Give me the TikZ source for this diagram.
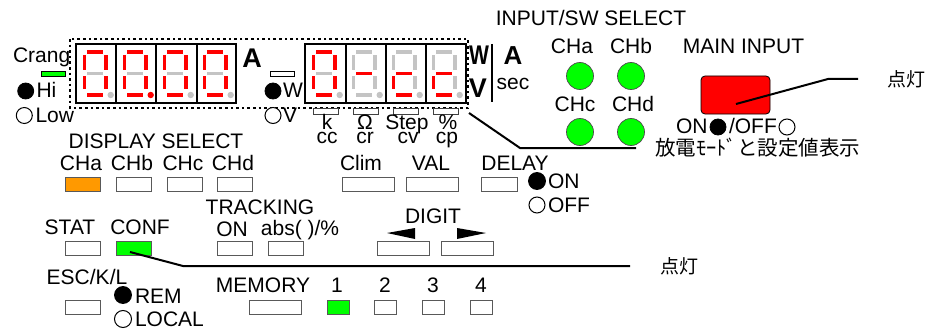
\documentclass[tikz,border=0pt]{standalone}
\usepackage{fontspec}
\setmainfont{Liberation Sans}
\newfontfamily\jpfont{Noto Sans CJK JP}
\definecolor{segR}{RGB}{255,0,0}
\definecolor{segG}{RGB}{196,196,196}
\definecolor{ledG}{RGB}{0,255,0}
\definecolor{ledO}{RGB}{255,153,0}
% x0, top, upper-right, lower-right, bottom, lower-left, upper-left, middle, dot
\newcommand{\sevenseg}[9]{%
  \begin{scope}[xshift=#1pt]
    \fill[#2] (11,50) rectangle (27,54);
    \fill[#3] (28,55) rectangle (32,70);
    \fill[#4] (28,76) rectangle (32,89);
    \fill[#5] (11,93) rectangle (27,97);
    \fill[#6] (6.5,76) rectangle (10,89);
    \fill[#7] (6.5,55) rectangle (10,70);
    \fill[#8] (11,72) rectangle (27,75);
    \fill[#9] (34.7,95) circle (3.2);
  \end{scope}}
\newcommand{\panelbtn}[6][white]{%
  \node[btnbox,fill=#1,minimum width=#4pt,minimum height=#5pt] (#2) at (#3,#6) {};}
\tikzset{
  lab/.style={font=\fontsize{21}{21}\selectfont,anchor=base,inner sep=0pt,outer sep=0pt},
  labl/.style={lab,anchor=base west},
  bigb/.style={font=\fontsize{27}{27}\selectfont\bfseries,anchor=base,inner sep=0pt},
  btnbox/.style={draw=black!65,line width=1pt,rectangle,inner sep=0pt,outer sep=0pt},
  smallbar/.style={draw=black,line width=.8pt,fill=white},
  digitbox/.style={draw=black,line width=1.4pt},
  lampon/.style={circle,fill=black,draw=black,line width=.8pt,minimum size=16pt,inner sep=0pt},
  lampoff/.style={circle,fill=white,draw=black,line width=1pt,minimum size=16pt,inner sep=0pt},
  ledc/.style={circle,fill=ledG,draw=black!70,line width=.7pt,minimum size=27pt,inner sep=0pt},
  leader/.style={draw=black,line width=2pt},
  jp/.style={font=\jpfont\fontsize{19}{19}\selectfont,inner sep=0pt}
}
\begin{document}
\begin{tikzpicture}[x=1pt,y=-1pt]
\useasboundingbox[fill=white] (0,0) rectangle (927,329);
% dotted frame
\draw[line width=2.4pt,dash pattern=on 2.6pt off 3pt] (70,39) rectangle (468,108);
% displays
\sevenseg{76}{segR}{segR}{segR}{segR}{segR}{segR}{segG}{segG}
\sevenseg{116}{segR}{segR}{segR}{segR}{segR}{segR}{segG}{segR}
\sevenseg{156}{segR}{segR}{segR}{segR}{segR}{segR}{segG}{segG}
\sevenseg{196}{segR}{segR}{segR}{segR}{segR}{segR}{segG}{segG}
\sevenseg{305}{segR}{segR}{segR}{segR}{segR}{segR}{segG}{segG}
\sevenseg{345}{segG}{segG}{segG}{segG}{segG}{segG}{segR}{segG}
\sevenseg{385}{segG}{segG}{segG}{segR}{segR}{segG}{segR}{segG}
\sevenseg{425}{segG}{segG}{segG}{segR}{segR}{segG}{segR}{segG}
\foreach \xa/\xb in {76/116,116/156,156/197,197/236,305/346,346/386,386/426,426/466}
  \draw[digitbox] (\xa,44) rectangle (\xb,103);
% left of display
\node[labl] (crang) at (13,63) {Crang};
\draw[draw=black,line width=.8pt,fill=ledG] (41.7,71) rectangle (65.7,76.7);
\node[lampon] (hi) at (25.7,91) {};
\node[labl] (hit) at (36.5,98) {Hi};
\node[lampoff] (low) at (24.3,115.5) {};
\node[labl] (lowt) at (35.5,122) {Low};
\node[bigb] (ua) at (252,68) {A};
\draw[smallbar] (270.7,71) rectangle (294.7,76.7);
\node[lampon] (lw) at (273,91) {};
\node[labl] (lwt) at (283,98) {W};
\node[lampoff] (lv) at (273,115.5) {};
\node[labl] (lvt) at (283,122) {V};
% unit indicators
\foreach \xa/\xb in {313/338,353/378,393/418,433/458}
  \draw[smallbar,draw=black!75] (\xa,108) rectangle (\xb,114);
\node[lab] at (327,129) {k};
\node[lab] at (365,129) {Ω};
\node[lab] at (407,129) {Step};
\node[lab] at (448,129) {\%};
\node[lab] at (327,143) {cc};
\node[lab] at (365,143) {cr};
\node[lab] at (408,143) {cv};
\node[lab] at (447,143) {cp};
\node[bigb,xscale=.78] at (479,65) {W};
\node[bigb] at (478,98) {V};
\draw[line width=2pt] (492,44) -- (492,102);
\node[bigb,font=\fontsize{26}{26}\selectfont\bfseries] at (513,65) {A};
\node[lab] at (513,89) {sec};
% input select
\node[lab] at (591,26) {INPUT/SW SELECT};
\node[lab] at (572,54) {CHa};
\node[lab] at (631,54) {CHb};
\node[lab] at (575,111) {CHc};
\node[lab] at (633,111) {CHd};
\node[ledc] (la) at (580,76) {};
\node[ledc] (lb) at (631,76) {};
\node[ledc] (lc) at (580,132) {};
\node[ledc] (ld) at (631,132) {};
% main input
\node[lab] at (743.5,54) {MAIN INPUT};
\node[rectangle,rounded corners=4pt,draw=black,line width=.8pt,fill=segR,minimum width=69pt,minimum height=38pt,inner sep=0pt] (main) at (735.5,95) {};
\node[labl] at (676,133) {ON};
\node[lampon] (mon) at (718,127) {};
\node[labl] at (729,133) {/OFF};
\node[lampoff] (moff) at (787,127) {};
\node[jp,font=\jpfont\fontsize{20.5}{20.5}\selectfont] (mode) at (757.5,148) {放電ﾓｰﾄﾞと設定値表示};
\node[jp] (lit1) at (906,79) {点灯};
\coordinate (m1) at (736,104);
\coordinate (m2) at (828,79);
\coordinate (m3) at (858,79);
\draw[leader] (m1) -- (m2) -- (m3);
% display leader
\coordinate (d1) at (469,113);
\coordinate (d2) at (520,148);
\coordinate (d3) at (636,148);
\draw[leader] (d1) -- (d2) -- (d3);
% display select
\node[lab] at (156,148) {DISPLAY SELECT};
\node[lab] at (81,170) {CHa};
\node[lab] at (132,170) {CHb};
\node[lab] at (183,170) {CHc};
\node[lab] at (233,170) {CHd};
\panelbtn[ledO]{bcha}{82.5}{35}{14}{184}
\panelbtn{bchb}{133.5}{35}{14}{184}
\panelbtn{bchc}{184.5}{35}{14}{184}
\panelbtn{bchd}{234.5}{35}{14}{184}
\node[lab] at (361,170) {Clim};
\node[lab] at (431,170) {VAL};
\node[lab] at (515,170) {DELAY};
\panelbtn{bclim}{368}{52}{14}{184}
\panelbtn{bval}{432}{52}{14}{184}
\panelbtn{bdelay}{499}{36}{14}{184}
\node[lampon,minimum size=17pt] (don) at (537,181) {};
\node[labl] at (548,188) {ON};
\node[lampoff] (doff) at (537,205) {};
\node[labl] at (548,212) {OFF};
% second row
\node[lab] at (70,234) {STAT};
\node[lab] at (140,234) {CONF};
\node[lab] at (260,214) {TRACKING};
\node[lab] at (232,236) {ON};
\node[lab] at (300,235) {abs( )/\%};
\panelbtn{bstat}{82.5}{35}{14}{248}
\panelbtn[ledG]{bconf}{133.5}{35}{14}{248}
\panelbtn{bton}{234.5}{35}{14}{248}
\panelbtn{babs}{285.5}{35}{14}{248}
\node[lab] at (433,223) {DIGIT};
\coordinate (tl) at (387,233);
\coordinate (tr) at (486,233);
\fill (tl) -- (415,228) -- (415,239) -- cycle;
\fill (tr) -- (457,228) -- (457,239) -- cycle;
\panelbtn{bdl}{403}{52}{14}{248}
\panelbtn{bdr}{467}{52}{14}{248}
% CONF leader
\coordinate (c1) at (130,252);
\coordinate (c2) at (183,266);
\coordinate (c3) at (630,266);
\draw[leader] (c1) -- (c2) -- (c3);
\node[jp] (lit2) at (679,266) {点灯};
% third row
\node[lab] at (87,284) {ESC/K/L};
\panelbtn{besc}{82.5}{35}{14}{307}
\node[lampon,minimum size=17pt] (rem) at (123,295) {};
\node[labl] at (135,303) {REM};
\node[lampoff,minimum size=17pt] (loc) at (123,319) {};
\node[labl] at (135,326.5) {LOCAL};
\node[lab] at (263,292) {MEMORY};
\panelbtn{bmem}{275}{52}{14}{307}
\node[lab] at (337,292) {1};
\node[lab] at (385,292) {2};
\node[lab] at (433,292) {3};
\node[lab] at (481,292) {4};
\panelbtn[ledG]{bm1}{338}{22}{14}{307}
\panelbtn{bm2}{385.5}{22}{14}{307}
\panelbtn{bm3}{433.5}{22}{14}{307}
\panelbtn{bm4}{481.5}{22}{14}{307}
\end{tikzpicture}
\end{document}
